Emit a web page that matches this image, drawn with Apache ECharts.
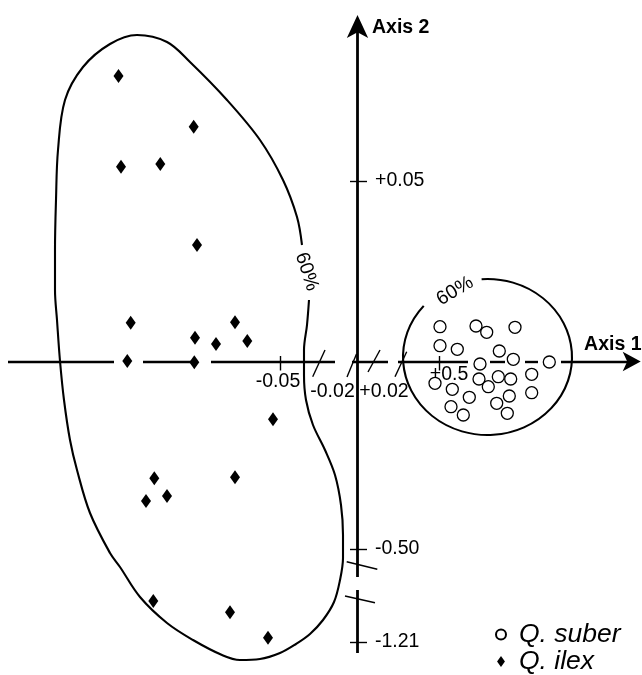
<!DOCTYPE html>
<html>
<head>
<meta charset="utf-8">
<script src="https://cdn.jsdelivr.net/npm/echarts@6/dist/echarts.min.js"></script>
<style>
  html, body { margin: 0; padding: 0; background: #fff; }
  #chart { width: 642px; height: 675px; }
</style>
</head>
<body>
<div id="chart"></div>
<script>
// ---------- DATA (plot units, origin at the crossing of Axis 1 and Axis 2) ----------
// Q. suber scores
const suberX = [0.825, 1.185, 1.292, 1.575, 0.825, 0.998, 1.418, 1.558, 1.225, 1.918, 1.742, 1.215,
                1.408, 1.532, 1.308, 0.775, 0.948, 1.118, 1.518, 1.742, 0.935, 1.058, 1.392, 1.498];
const suberY = [0.348, 0.355, 0.292, 0.342, 0.158, 0.122, 0.105, 0.022, -0.025, -0.005, -0.128, -0.175,
                -0.152, -0.175, -0.252, -0.218, -0.278, -0.358, -0.345, -0.312, -0.452, -0.535, -0.418, -0.518];
// Q. ilex scores
const ilexX = [-2.39, -1.638, -2.365, -1.972, -1.605, -2.268, -1.225, -1.625, -1.415, -1.102,
               -2.302, -1.632, -0.845, -2.032, -1.225, -2.115, -1.905, -2.042, -1.275, -0.895];
const ilexY = [2.855, 2.348, 1.948, 1.975, 1.165, 0.388, 0.392, 0.238, 0.175, 0.205,
               0.005, -0.008, -0.578, -1.168, -1.158, -1.395, -1.345, -2.395, -2.508, -2.762];

// 60% contour of Q. ilex (open at the "60%" label)
const ilexContourX = [-0.485, -0.505, -0.535, -0.535, -0.515, -0.445, -0.325, -0.225, -0.165, -0.145,
  -0.145, -0.175, -0.235, -0.345, -0.475, -0.615, -0.775, -0.975, -1.175, -1.355, -1.645, -1.905,
  -2.175, -2.375, -2.475, -2.675, -2.805, -2.875, -2.935, -2.975, -3.005, -3.025, -3.025, -3.015,
  -2.995, -2.925, -2.745, -2.475, -2.205, -1.905, -1.675, -1.305, -0.975, -0.745, -0.605, -0.555];
const ilexContourY = [0.615, 0.365, 0.115, -0.135, -0.385, -0.635, -0.885, -1.135, -1.435, -1.735,
  -1.965, -2.185, -2.405, -2.585, -2.725, -2.825, -2.915, -2.975, -2.985, -2.935, -2.785, -2.615,
  -2.355, -2.055, -1.915, -1.515, -1.085, -0.785, -0.385, 0.005, 0.415, 0.715, 1.115, 1.615,
  2.115, 2.615, 2.945, 3.175, 3.265, 3.195, 2.995, 2.615, 2.215, 1.815, 1.445, 1.165];

// 60% contour of Q. suber: centre x, centre y, radius x, radius y ; label gap (degrees)
const suberEllipse = [1.30, 0.045, 0.845, 0.78];
const suberGapDeg = [94, 139];

// Contour labels: text and anchor
const contourLabels = ['60%', '60%'];
const contourLabelX = [-0.508, 0.975];
const contourLabelY = [0.898, 0.705];

// Broken axes
const axis1Segments = [[-3.495, -2.435], [-2.145, -1.645], [-1.465, -0.225], [-0.055, 0.305],
                       [0.405, 1.105], [1.325, 1.475], [1.675, 1.805], [2.035, 2.742]];
const axis2Segments = [[-2.155, 3.35], [-2.915, -2.285]];
const axisTips = [2.832, 3.465];
const axis1Breaks = [[[-0.448, -0.152], [-0.325, 0.115]], [[-0.105, -0.155], [-0.01, 0.075]],
                     [[0.105, -0.105], [0.225, 0.115]], [[0.375, -0.152], [0.492, 0.098]]];
const axis2Breaks = [[[-0.108, -2.002], [0.198, -2.078]], [[-0.125, -2.345], [0.175, -2.412]]];

// Tick labels
const xTickLabels = ['-0.05', '-0.02', '+0.02', '+0.5'];
const xTickValues = [-0.775, -0.235, 0.26, 0.82];
const xTickMarked = [true, false, false, true];
const yTickLabels = ['+0.05', '-0.50', '-1.21'];
const yTickValues = [1.805, -1.875, -2.805];
const axisNames = ['Axis 1', 'Axis 2'];
const seriesNames = ['Q. suber', 'Q. ilex'];

// ---------- STYLE ----------
const FONT = '"Liberation Sans", Arial, Helvetica, sans-serif';
const INK = '#000000';
const xLabelOffsets = [[-2, 20.5], [-1.5, 30], [0.5, 30], [9.5, 13.5]];
const deg = Math.PI / 180;

const chart = echarts.init(document.getElementById('chart'), null, { renderer: 'canvas' });

const zip = (xs, ys) => xs.map((x, i) => [x, ys[i]]);
const at = (dx, dy) => [dx + 0.5, dy + 0.5]; // anchor relative to the 1px symbol centre
const lbl = (extra) => Object.assign({ color: INK, opacity: 1, fontFamily: FONT, fontSize: 19.5,
  verticalAlign: 'middle', textBorderWidth: 0, textShadowBlur: 0 }, extra);

const axisLineData1 = axis1Segments.map(s => ({ coords: [[s[0], 0], [s[1], 0]] }));
const axisLineData2 = axis2Segments.map(s => ({ coords: [[0, s[0]], [0, s[1]]] }));
const breakData = axis1Breaks.concat(axis2Breaks).map(b => ({ coords: b }));
const tickData = [];
xTickValues.forEach((v, i) => { if (xTickMarked[i]) tickData.push({ coords: [[v, 0.055], [v, -0.09]] }); });
yTickValues.forEach(v => tickData.push({ coords: [[-0.075, v], [0.095, v]] }));

const labelData = [];
xTickLabels.forEach((t, i) => labelData.push({
  value: [xTickValues[i], 0], name: t,
  label: lbl({ position: at(xLabelOffsets[i][0], xLabelOffsets[i][1]), align: 'center' })
}));
yTickLabels.forEach((t, i) => labelData.push({
  value: [0, yTickValues[i]], name: t,
  label: lbl({ position: at(17.5, 0), align: 'left' })
}));
labelData.push({ value: [axis1Segments[axis1Segments.length - 1][1], 0], name: axisNames[0],
  label: lbl({ position: at(9.8, -17), align: 'right', fontWeight: 'bold' }) });
labelData.push({ value: [0, axis2Segments[0][1]], name: axisNames[1],
  label: lbl({ position: at(14.5, 1), align: 'left', fontWeight: 'bold' }) });
contourLabels.forEach((t, i) => labelData.push({
  value: [contourLabelX[i], contourLabelY[i]], name: t,
  label: lbl({ position: at(0, 0), align: 'center', rotate: i === 0 ? -72 : 31, fontSize: 19.5 })
}));

const option = {
  animation: false,
  backgroundColor: '#fff',
  textStyle: { color: INK, fontFamily: FONT },
  grid: { left: 0, right: 0, top: 0, bottom: 0, containLabel: false },
  xAxis: { type: 'value', min: -3.575, max: 2.845, show: false, splitLine: { show: false } },
  yAxis: { type: 'value', min: -3.135, max: 3.615, show: false, splitLine: { show: false } },
  legend: {
    data: [
      { name: seriesNames[0], icon: 'circle' },
      { name: seriesNames[1], icon: 'path://M5,0 L10,7 L5,14 L0,7 Z' }
    ],
    orient: 'vertical',
    left: 495, top: 621,
    padding: 0,
    itemWidth: 10, itemHeight: 11, itemGap: 0,
    symbolKeepAspect: true,
    selectedMode: false,
    textStyle: { fontFamily: FONT, fontSize: 26.5, fontStyle: 'italic', color: INK, lineHeight: 27, padding: [0, 0, 0, 8] }
  },
  series: [
    {
      type: 'lines', coordinateSystem: 'cartesian2d', silent: true, z: 1,
      lineStyle: { color: INK, width: 2.4, opacity: 1 }, symbol: 'none',
      data: axisLineData1
    },
    {
      type: 'lines', coordinateSystem: 'cartesian2d', silent: true, z: 1,
      lineStyle: { color: INK, width: 2.8, opacity: 1 }, symbol: 'none',
      data: axisLineData2
    },
    {
      type: 'lines', coordinateSystem: 'cartesian2d', silent: true, z: 1,
      lineStyle: { color: INK, width: 1.4, opacity: 1 }, symbol: 'none',
      data: tickData.concat(breakData)
    },
    {
      type: 'scatter', silent: true, z: 2,
      symbol: 'arrow',
      itemStyle: { color: INK, opacity: 1 },
      data: [
        { value: [0, axisTips[1]], symbolSize: [16, 23], symbolRotate: 0 },
        { value: [axisTips[0], 0], symbolSize: [14.5, 18], symbolRotate: -90 }
      ]
    },
    {
      type: 'line', silent: true, z: 3,
      data: zip(ilexContourX, ilexContourY),
      smooth: 0.35, symbol: 'none',
      lineStyle: { color: INK, width: 2.1 }
    },
    {
      type: 'custom', silent: true, z: 3,
      data: [suberEllipse],
      encode: { x: 0, y: 1 },
      renderItem: function (params, api) {
        const c = api.coord([api.value(0), api.value(1)]);
        const s = api.size([api.value(2), api.value(3)]);
        return {
          type: 'arc',
          x: c[0], y: c[1],
          scaleY: s[1] / s[0],
          shape: { cx: 0, cy: 0, r: s[0], startAngle: -suberGapDeg[0] * deg, endAngle: (360 - suberGapDeg[1]) * deg, clockwise: true },
          style: { stroke: INK, lineWidth: 2.1, fill: 'none' }
        };
      }
    },
    {
      name: seriesNames[0], type: 'scatter', silent: true, z: 4,
      symbol: 'circle', symbolSize: 12,
      itemStyle: { color: '#fff', borderColor: INK, borderWidth: 1.3, opacity: 1 },
      data: zip(suberX, suberY)
    },
    {
      name: seriesNames[1], type: 'scatter', silent: true, z: 4,
      symbol: 'diamond', symbolSize: [10, 14],
      itemStyle: { color: INK, opacity: 1 },
      data: zip(ilexX, ilexY)
    },
    {
      type: 'scatter', silent: true, z: 6,
      symbol: 'circle', symbolSize: 1,
      itemStyle: { color: 'rgba(255,255,255,0)' },
      label: lbl({ show: true, formatter: '{b}' }),
      labelLayout: { hideOverlap: false },
      data: labelData
    }
  ]
};
chart.setOption(option);
</script>
</body>
</html>
